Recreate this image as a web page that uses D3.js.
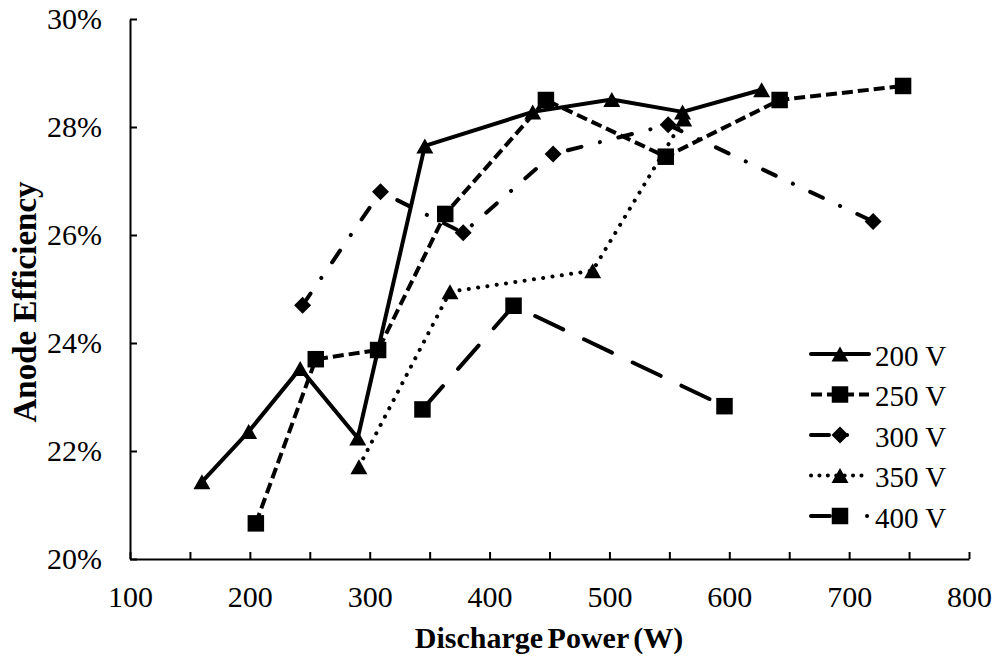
<!DOCTYPE html>
<html>
<head>
<meta charset="utf-8">
<script src="https://cdn.jsdelivr.net/npm/d3@7"></script>
<style>
  html, body { margin: 0; padding: 0; background: #fff; }
  svg { display: block; }
  svg text { font-family: "Liberation Serif", "DejaVu Serif", serif; fill: #000; }
</style>
</head>
<body>
<svg id="chart" width="998" height="656"></svg>
<script>
// ---- data ----
const seriesNames = ["200 V", "250 V", "300 V", "350 V", "400 V"];
const power200 = [160, 199, 242, 290, 346, 436, 502, 561, 627];
const eff200   = [21.43, 22.36, 23.53, 22.24, 27.65, 28.28, 28.51, 28.28, 28.69];
const power250 = [205, 255, 307, 363, 447, 547, 642, 745];
const eff250   = [20.66, 23.70, 23.87, 26.39, 28.50, 27.45, 28.50, 28.76];
const power300 = [244, 309, 378, 453, 549, 720];
const eff300   = [24.70, 26.80, 26.04, 27.50, 28.04, 26.25];
const power350 = [291, 367, 486, 562];
const eff350   = [21.71, 24.95, 25.34, 28.15];
const power400 = [344, 420, 596];
const eff400   = [22.77, 24.69, 22.83];
const xTicks = [100, 150, 200, 250, 300, 350, 400, 450, 500, 550, 600, 650, 700, 750, 800];
const yTicks = [20, 22, 24, 26, 28, 30];

// ---- styles (kept separate from data) ----
const FONT = "'Liberation Serif','DejaVu Serif',serif";
const markers = ["triangle", "square", "diamond", "triangle", "square"];
const dashes  = [null, "11,5", "14,19,0.1,19", "0.1,9.3", "31,23"];
const caps    = ["round", "butt", "round", "round", "round"];
const legendDashes = [null, "11,5", "18,18,0.1,100", "0.1,8.3", "19,37,0.1,100"];

const powers = [power200, power250, power300, power350, power400];
const effs   = [eff200, eff250, eff300, eff350, eff400];

const svg = d3.select("#chart");
const x = d3.scaleLinear().domain([100, 800]).range([130, 969]);
const y = d3.scaleLinear().domain([20, 30]).range([559, 19]);

// axes
const xAxis = d3.axisBottom(x).tickValues(xTicks)
  .tickFormat(d => d % 100 === 0 ? d : "")
  .tickSizeInner(-7).tickSizeOuter(0).tickPadding(27);
const gx = svg.append("g").attr("transform", "translate(0,559)").call(xAxis);
const yAxis = d3.axisLeft(y).tickValues(yTicks)
  .tickFormat(d => d + "%")
  .tickSizeInner(-7).tickSizeOuter(0).tickPadding(28);
const gy = svg.append("g").attr("transform", "translate(130,0)").call(yAxis);
[gx, gy].forEach(g => {
  g.attr("font-family", null).attr("font-size", null);
  g.select(".domain").attr("stroke", "#000").attr("stroke-width", 2);
  g.selectAll(".tick line").attr("stroke", "#000").attr("stroke-width", 2);
  g.selectAll(".tick text").style("font-size", "30px").style("font-family", FONT).attr("fill", "#000");
});

// axis titles
svg.append("text").attr("x", 549).attr("y", 648).attr("text-anchor", "middle")
  .style("font-family", FONT).style("font-size", "30px").style("font-weight", "bold")
  .style("word-spacing", "-3px").text("Discharge Power (W)");
svg.append("text").attr("transform", "translate(36,302) rotate(-90)").attr("text-anchor", "middle")
  .style("font-family", FONT).style("font-size", "33px").style("font-weight", "bold").text("Anode Efficiency");

function markerPath(type) {
  if (type === "triangle") { const w = 17, h = 15; return `M0,${-h/2}L${w/2},${h/2}L${-w/2},${h/2}Z`; }
  if (type === "square") { const s = 16.5; return `M${-s/2},${-s/2}h${s}v${s}h${-s}Z`; }
  const r = 8.5; return `M0,${-r}L${r},0L0,${r}L${-r},0Z`;
}

const line = d3.line().x(d => x(d[0])).y(d => y(d[1]));

seriesNames.forEach((name, i) => {
  const pts = powers[i].map((p, j) => [p, effs[i][j]]);
  const g = svg.append("g");
  g.append("path").attr("d", line(pts)).attr("fill", "none").attr("stroke", "#000")
    .attr("stroke-width", 4).attr("stroke-linecap", caps[i]).attr("stroke-linejoin", "round")
    .attr("stroke-dasharray", dashes[i]);
  g.selectAll("path.m").data(pts).join("path").attr("class", "m")
    .attr("transform", d => `translate(${x(d[0])},${y(d[1])})`)
    .attr("d", markerPath(markers[i])).attr("fill", "#000");
});

// legend
const legY = d3.scaleLinear().domain([0, 4]).range([354, 516]);
seriesNames.forEach((name, i) => {
  const ly = legY(i);
  const g = svg.append("g");
  g.append("line").attr("x1", 811).attr("x2", 869).attr("y1", ly).attr("y2", ly)
    .attr("stroke", "#000").attr("stroke-width", 4).attr("stroke-linecap", caps[i])
    .attr("stroke-dasharray", legendDashes[i]);
  g.append("path").attr("transform", `translate(840,${ly})`).attr("d", markerPath(markers[i])).attr("fill", "#000");
  g.append("text").attr("x", 875).attr("y", ly + 11.5)
    .style("font-family", FONT).style("font-size", "29px").text(name);
});
</script>
</body>
</html>
